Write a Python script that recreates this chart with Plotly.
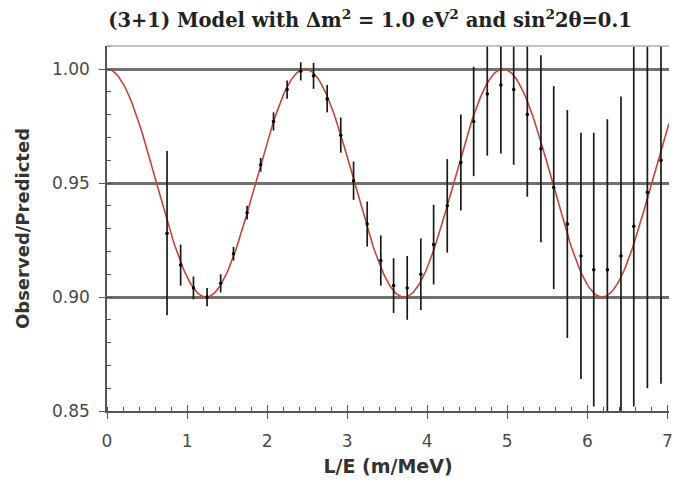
import numpy as np
import plotly.graph_objects as go

# Data
le_vals = [0.75, 0.92, 1.08, 1.25, 1.42, 1.58, 1.75, 1.92, 2.08, 2.25,
           2.42, 2.58, 2.75, 2.92, 3.08, 3.25, 3.42, 3.58, 3.75, 3.92,
           4.08, 4.25, 4.42, 4.58, 4.75, 4.92, 5.08, 5.25, 5.42, 5.58,
           5.75, 5.92, 6.08, 6.25, 6.42, 6.58, 6.75, 6.92]
ratio_vals = [0.928, 0.914, 0.904, 0.900, 0.906, 0.919, 0.937, 0.958, 0.977, 0.991,
              0.999, 0.997, 0.987, 0.971, 0.951, 0.932, 0.916, 0.905, 0.904, 0.910,
              0.923, 0.940, 0.959, 0.977, 0.989, 0.993, 0.991, 0.980, 0.965, 0.948,
              0.932, 0.918, 0.912, 0.912, 0.918, 0.931, 0.946, 0.960]
ratio_err = [0.036, 0.009, 0.005, 0.004, 0.004, 0.003, 0.003, 0.003, 0.004, 0.004,
             0.004, 0.0057, 0.006, 0.0077, 0.0084, 0.0099, 0.011, 0.012, 0.014, 0.0157,
             0.0175, 0.0205, 0.021, 0.024, 0.027, 0.030, 0.033, 0.036, 0.041, 0.0445,
             0.050, 0.054, 0.060, 0.066, 0.070, 0.079, 0.086, 0.098]

# Model parameters from the title: (3+1) model
dm2 = 1.0      # eV^2
sin2_2theta = 0.1
x_ticks = [0, 1, 2, 3, 4, 5, 6, 7]
y_ticks = [0.85, 0.90, 0.95, 1.00]

# Oscillation model curve P = 1 - sin^2(2θ) sin^2(1.27 Δm² L/E)
le_model = np.linspace(0, 7.02, 400)
model = 1 - sin2_2theta * np.sin(1.27 * dm2 * le_model) ** 2

X_RANGE = [0, 7.02]
Y_RANGE = [0.85, 1.0101]
tick_font = dict(family="DejaVu Sans", size=17, color="#4a4a4a")
axis_col = "#555555"

fig = go.Figure()
fig.add_trace(go.Scatter(
    x=le_model, y=model, mode="lines",
    line=dict(color="#c0483a", width=1.6), hoverinfo="skip", showlegend=False))
fig.add_trace(go.Scatter(
    x=le_vals, y=ratio_vals, mode="markers",
    marker=dict(color="black", size=3.5),
    error_y=dict(type="data", array=ratio_err, color="#1a1a1a", thickness=1.7, width=0),
    showlegend=False))
# helper trace for overlay axes (inside major ticks)
fig.add_trace(go.Scatter(x=[None], y=[None], xaxis="x2", yaxis="y2",
                         showlegend=False, hoverinfo="skip"))

fig.update_layout(
    width=673, height=484,
    margin=dict(l=107, r=0, t=46, b=73),
    paper_bgcolor="white", plot_bgcolor="white",
    title=dict(text="<b>(3+1) Model with Δm<sup>2</sup> = 1.0 eV<sup>2</sup> and sin<sup>2</sup>2θ=0.1</b>",
               font=dict(family="DejaVu Serif", size=19.5, color="#222222"),
               x=370 / 673, xref="container", xanchor="center",
               y=1 - 20 / 484, yref="container", yanchor="middle"),
    xaxis=dict(range=X_RANGE, tickvals=x_ticks, ticktext=[str(v) for v in x_ticks],
               showgrid=False, zeroline=False,
               showline=True, linecolor=axis_col, linewidth=1.5,
               ticks="outside", ticklen=6, tickcolor=axis_col, tickwidth=1.2,
               minor=dict(dtick=0.2, ticks="inside", ticklen=4, tickcolor=axis_col, showgrid=False),
               tickfont=tick_font, ticklabelstandoff=8, ticklabeloverflow="allow",
               title=dict(text="<b>L/E (m/MeV)</b>", standoff=10,
                          font=dict(family="DejaVu Sans", size=19, color="#333333"))),
    yaxis=dict(range=Y_RANGE, tickvals=y_ticks, ticktext=["%.2f" % v for v in y_ticks],
               showgrid=True, gridcolor="#707070", gridwidth=2.6, zeroline=False,
               showline=True, linecolor=axis_col, linewidth=1.5,
               ticks="outside", ticklen=6, tickcolor=axis_col, tickwidth=1.2,
               minor=dict(dtick=0.01, ticks="inside", ticklen=4, tickcolor=axis_col, showgrid=False),
               tickfont=tick_font, ticklabelstandoff=6,
               title=dict(text="<b>Observed/Predicted</b>", standoff=18,
                          font=dict(family="DejaVu Sans", size=18, color="#333333"))),
    xaxis2=dict(range=X_RANGE, overlaying="x", anchor="y2", tickvals=x_ticks,
                showticklabels=False, showgrid=False, zeroline=False, showline=False,
                ticks="inside", ticklen=6, tickcolor=axis_col, tickwidth=1.2),
    yaxis2=dict(range=Y_RANGE, overlaying="y", anchor="x2", tickvals=y_ticks,
                showticklabels=False, showgrid=False, zeroline=False, showline=False,
                ticks="inside", ticklen=6, tickcolor=axis_col, tickwidth=1.2),
    shapes=[dict(type="line", xref="paper", yref="paper", x0=0, x1=1, y0=1, y1=1,
                 line=dict(color="#b0b0b0", width=1.5))],
)

fig.write_html("out.html")
